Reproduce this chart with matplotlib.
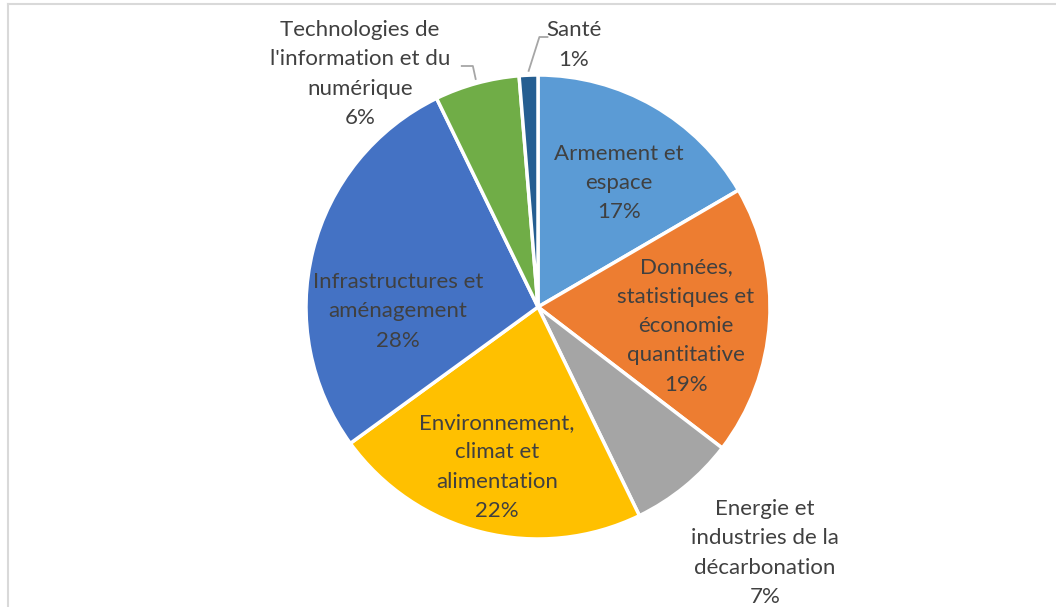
import matplotlib
matplotlib.use("Agg")
import matplotlib.pyplot as plt
import numpy as np
from matplotlib.lines import Line2D

categories = ["Armement et\nespace", "Données,\nstatistiques et\néconomie\nquantitative",
              "Energie et\nindustries de la\ndécarbonation", "Environnement,\nclimat et\nalimentation",
              "Infrastructures et\naménagement", "Technologies de\nl'information et du\nnumérique", "Santé"]
values = [16.6, 18.8, 7.4, 22.2, 27.8, 5.9, 1.3]
pct_labels = ["17%", "19%", "7%", "22%", "28%", "6%", "1%"]
colors = ["#5B9BD5", "#ED7D31", "#A5A5A5", "#FFC000", "#4472C4", "#70AD47", "#255E91"]

# label layout: (angle clockwise from top in degrees, distance as fraction of radius)
label_polar = [(33.2, 0.639), (97.3, 0.643), (137.3, 1.443), (194.4, 0.712),
               (268.2, 0.605), (322.6, 1.264), (7.8, 1.140)]

W, H = 1056, 607
fig = plt.figure(figsize=(W / 100, H / 100), dpi=100)
ax = fig.add_axes([0, 0, 1, 1])
cx, cy, R = 538, H - 307, 232
wedges, _ = ax.pie(values, colors=colors, startangle=90, counterclock=False,
                   center=(cx, cy), radius=R,
                   wedgeprops=dict(edgecolor="white", linewidth=2.5))
ax.set_xlim(0, W)
ax.set_ylim(0, H)
ax.set_aspect("equal")
ax.axis("off")

font = "Lato"
fs = 16
tcol = "#404040"
for i, (w, cat, p) in enumerate(zip(wedges, categories, pct_labels)):
    ang, d = label_polar[i]
    a = np.deg2rad(ang)
    x = cx + np.sin(a) * d * R
    y = cy + np.cos(a) * d * R
    ax.text(x, y, cat + "\n" + p, ha="center", va="center", fontsize=fs,
            family=font, color=tcol, linespacing=1.58)

# leader lines for small outside labels
lcol = "#A6A6A6"
for i in (5, 6):
    w = wedges[i]
    mid = np.deg2rad((w.theta1 + w.theta2) / 2)
    px = cx + np.cos(mid) * R * 1.015
    py = cy + np.sin(mid) * R * 1.015
    elbow_x = px + (-3 if i == 5 else 11)
    elbow_y = cy + (241 if i == 5 else 270)
    end_x = elbow_x + (-12 if i == 5 else 9)
    ax.plot([px, elbow_x, end_x], [py, elbow_y, elbow_y], color=lcol, lw=1.3,
            solid_capstyle="butt")

# chart border (top and left visible)
bc = "#D9D9D9"
fig.add_artist(Line2D([7.5 / W, 1], [1 - 4 / H, 1 - 4 / H], color=bc, lw=1.5))
fig.add_artist(Line2D([7.5 / W, 7.5 / W], [0, 1 - 4 / H], color=bc, lw=1.5))

fig.savefig("out.png", dpi=100, facecolor="white")
